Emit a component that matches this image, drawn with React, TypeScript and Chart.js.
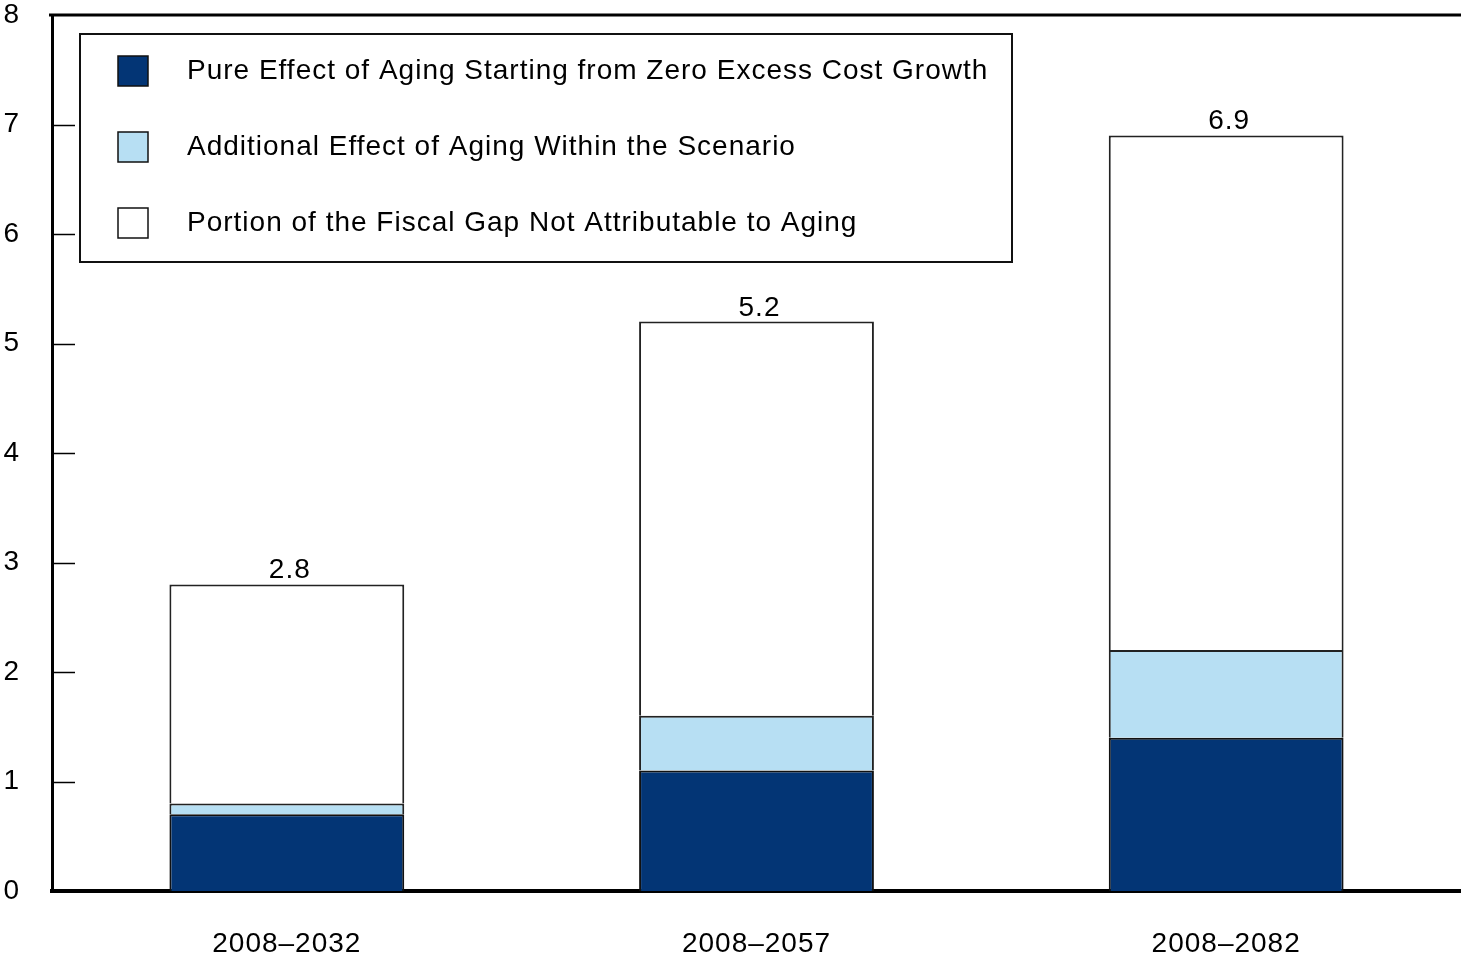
import React, { useEffect, useRef } from "react";
import { Chart, registerables } from "chart.js";

Chart.register(...registerables);

const categories = ["2008–2032", "2008–2057", "2008–2082"];
const pureAging = [0.7, 1.1, 1.4];
const additionalAging = [0.1, 0.5, 0.8];
const notAging = [2.0, 3.6, 4.7];
const totalLabels = ["2.8", "5.2", "6.9"];
const seriesNames = [
  "Pure Effect of Aging Starting from Zero Excess Cost Growth",
  "Additional Effect of Aging Within the Scenario",
  "Portion of the Fiscal Gap Not Attributable to Aging",
];
const yTicks = [1, 2, 3, 4, 5, 6, 7];

const FONT = "'Liberation Sans', Arial, Helvetica, sans-serif";

const decorPlugin = {
  id: "decor",
  beforeDraw(chart: any) {
    chart.ctx.letterSpacing = "1px";
  },
  afterDatasetsDraw(chart: any) {
    const { ctx, chartArea, scales } = chart;
    const y = scales.y;
    const x = scales.x;
    ctx.save();
    ctx.letterSpacing = "1px";
    // top frame line
    ctx.strokeStyle = "#000";
    ctx.lineWidth = 3;
    ctx.beginPath();
    ctx.moveTo(chartArea.left - 3, chartArea.top);
    ctx.lineTo(chart.width, chartArea.top);
    ctx.stroke();
    // inward ticks
    ctx.lineWidth = 1.5;
    yTicks.forEach((v) => {
      const py = Math.round(y.getPixelForValue(v)) + 0.5;
      ctx.beginPath();
      ctx.moveTo(chartArea.left, py);
      ctx.lineTo(chartArea.left + 23, py);
      ctx.stroke();
    });
    // total labels
    ctx.fillStyle = "#000";
    ctx.font = `28px ${FONT}`;
    ctx.textAlign = "center";
    ctx.textBaseline = "alphabetic";
    categories.forEach((_, i) => {
      const total = pureAging[i] + additionalAging[i] + notAging[i];
      const px = x.getPixelForValue(i);
      const py = y.getPixelForValue(total);
      ctx.fillText(totalLabels[i], px + 3, py - 6);
    });
    // legend
    const lx = chartArea.left + 28;
    const ly = chartArea.top + 19;
    const lw = 932;
    const lh = 228;
    ctx.fillStyle = "#fff";
    ctx.fillRect(lx, ly, lw, lh);
    ctx.strokeStyle = "#111";
    ctx.lineWidth = 2;
    ctx.strokeRect(lx, ly, lw, lh);
    chart.data.datasets.forEach((ds: any, i: number) => {
      const cy = ly + 37 + i * 76;
      ctx.fillStyle = ds.backgroundColor;
      ctx.fillRect(lx + 38, cy - 15, 30, 30);
      ctx.strokeStyle = "#111";
      ctx.lineWidth = 1.5;
      ctx.strokeRect(lx + 38, cy - 15, 30, 30);
      ctx.fillStyle = "#000";
      ctx.font = `28px ${FONT}`;
      ctx.textAlign = "left";
      ctx.textBaseline = "middle";
      ctx.fillText(seriesNames[i], lx + 107, cy);
    });
    ctx.restore();
  },
};

export default function App() {
  const ref = useRef<HTMLCanvasElement | null>(null);
  useEffect(() => {
    document.body.style.margin = "0";
    const chart = new Chart(ref.current as HTMLCanvasElement, {
      type: "bar",
      data: {
        labels: categories,
        datasets: [
          {
            label: seriesNames[0],
            data: pureAging,
            backgroundColor: "#033575",
            borderColor: "#111",
            borderWidth: 2,
          },
          {
            label: seriesNames[1],
            data: additionalAging,
            backgroundColor: "#B7DFF3",
            borderColor: "#222",
            borderWidth: 2,
          },
          {
            label: seriesNames[2],
            data: notAging,
            backgroundColor: "#FFFFFF",
            borderColor: "#222",
            borderWidth: 2,
          },
        ],
      },
      options: {
        animation: false,
        responsive: true,
        maintainAspectRatio: false,
        layout: { padding: { top: 15, right: 0, left: 0, bottom: 0 } },
        datasets: { bar: { categoryPercentage: 1, barPercentage: 0.5 } },
        plugins: {
          legend: { display: false },
          tooltip: { enabled: false },
        },
        scales: {
          x: {
            stacked: true,
            grid: { display: false, drawTicks: false },
            border: { display: true, color: "#000", width: 4 },
            ticks: {
              color: "#000",
              font: { family: FONT, size: 28 },
              padding: 36,
              maxRotation: 0,
            },
            afterFit(scale: any) {
              scale.height = 65;
              scale.paddingLeft = 0;
              scale.paddingRight = 0;
            },
          },
          y: {
            stacked: true,
            min: 0,
            max: 8,
            grid: { display: false, drawTicks: false },
            border: { display: true, color: "#000", width: 3 },
            ticks: {
              stepSize: 1,
              color: "#000",
              font: { family: FONT, size: 28 },
              padding: 32,
            },
            afterFit(scale: any) {
              scale.width = 52;
              scale.paddingTop = 0;
              scale.paddingBottom = 0;
            },
          },
        },
      },
      plugins: [decorPlugin],
    });
    return () => chart.destroy();
  }, []);
  return (
    <div style={{ width: "1461px", height: "956px", position: "relative" }}>
      <canvas ref={ref} />
    </div>
  );
}
